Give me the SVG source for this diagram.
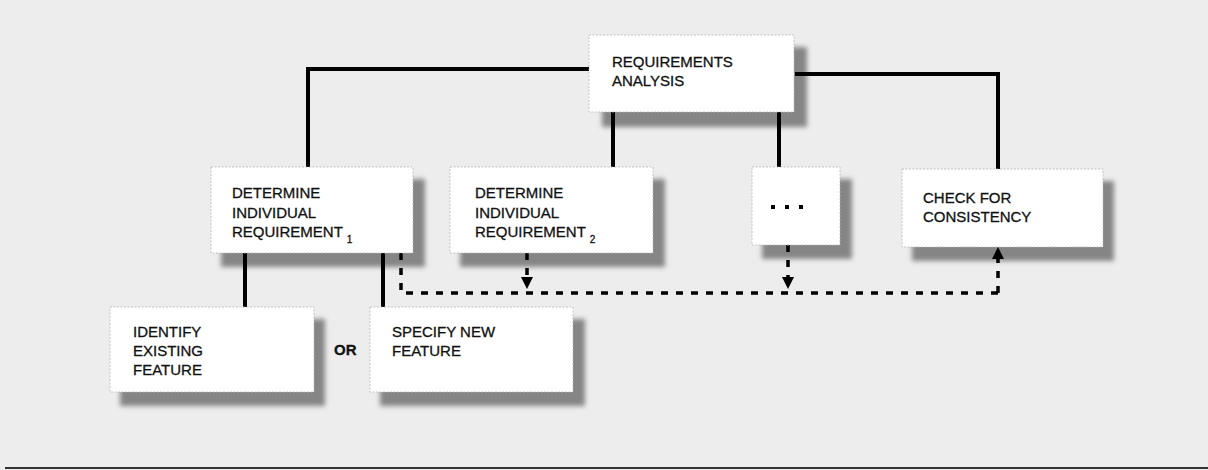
<svg xmlns="http://www.w3.org/2000/svg" width="1208" height="470" viewBox="0 0 1208 470">
<style>
.box{fill:#ffffff;stroke:#b8b8b8;stroke-width:0.8;stroke-dasharray:2 1.5}
.sh{fill:#858585;filter:url(#blur)}
.t{font-family:"Liberation Sans",Arial,sans-serif;font-size:15px;fill:#111;stroke:#111;stroke-width:0.3}
.sub{font-family:"Liberation Sans",Arial,sans-serif;font-size:10px;fill:#111}
.solid{fill:none;stroke:#000;stroke-width:4}
.dash{fill:none;stroke:#000;stroke-width:3.5;stroke-dasharray:7 8}
</style>
<defs>
<filter id="blur" x="-20%" y="-20%" width="140%" height="140%"><feGaussianBlur stdDeviation="2.5"/></filter>
</defs>
<rect x="0" y="0" width="1208" height="470" fill="#ededed"/>

<g id="shadows">
<rect class="sh" x="602" y="47" width="205" height="80"/>
<rect class="sh" x="221" y="179" width="204" height="88"/>
<rect class="sh" x="460" y="179" width="205" height="88"/>
<rect class="sh" x="762" y="179" width="90" height="80"/>
<rect class="sh" x="912" y="181" width="202" height="80"/>
<rect class="sh" x="120" y="319" width="205" height="87"/>
<rect class="sh" x="380" y="319" width="205" height="87"/>
</g>

<g id="connectors">
<polyline class="solid" points="592,69 308,69 308,167"/>
<polyline class="solid" points="795,74 998,74 998,169"/>
<line class="solid" x1="613" y1="112" x2="613" y2="167"/>
<line class="solid" x1="779" y1="112" x2="779" y2="167"/>
<line class="solid" x1="245" y1="253" x2="245" y2="307"/>
<line class="solid" x1="383" y1="253" x2="383" y2="307"/>
<polyline class="dash" points="401,253 401,293 998,293"/>
<line class="dash" x1="998" y1="293" x2="998" y2="258"/>
<path d="M992,259 L998,247 L1004,259 Z" fill="#000"/>
<line class="dash" x1="527" y1="253" x2="527" y2="278"/>
<path d="M521,277 L527,289 L533,277 Z" fill="#000"/>
<line class="dash" x1="788" y1="245" x2="788" y2="278"/>
<path d="M782,277 L788,289 L794,277 Z" fill="#000"/>
</g>

<g id="requirements-analysis">
<rect class="box" x="589" y="35" width="205" height="77"/>
<text class="t" x="612" y="67">REQUIREMENTS</text>
<text class="t" x="612" y="86">ANALYSIS</text>
</g>

<g id="determine-1">
<rect class="box" x="211" y="167" width="202" height="86"/>
<text class="t" x="232" y="198">DETERMINE</text>
<text class="t" x="232" y="218">INDIVIDUAL</text>
<text class="t" x="232" y="237">REQUIREMENT <tspan class="sub" dy="6">1</tspan></text>
</g>

<g id="determine-2">
<rect class="box" x="450" y="167" width="203" height="86"/>
<text class="t" x="475" y="198">DETERMINE</text>
<text class="t" x="475" y="218">INDIVIDUAL</text>
<text class="t" x="475" y="237">REQUIREMENT <tspan class="sub" dy="6">2</tspan></text>
</g>

<g id="ellipsis">
<rect class="box" x="752" y="167" width="88" height="78"/>
<rect x="771" y="205" width="4" height="4" fill="#000"/>
<rect x="785" y="205" width="4" height="4" fill="#000"/>
<rect x="799" y="205" width="4" height="4" fill="#000"/>
</g>

<g id="check-consistency">
<rect class="box" x="902" y="169" width="201" height="78"/>
<text class="t" x="923" y="203">CHECK FOR</text>
<text class="t" x="923" y="222">CONSISTENCY</text>
</g>

<g id="identify-existing">
<rect class="box" x="110" y="307" width="204" height="85"/>
<text class="t" x="133" y="337">IDENTIFY</text>
<text class="t" x="133" y="356">EXISTING</text>
<text class="t" x="133" y="375">FEATURE</text>
</g>

<g id="or-label">
<text class="t" x="334" y="355" style="font-weight:bold">OR</text>
</g>

<g id="specify-new">
<rect class="box" x="370" y="307" width="203" height="85"/>
<text class="t" x="392" y="337">SPECIFY NEW</text>
<text class="t" x="392" y="356">FEATURE</text>
</g>

<line x1="5" y1="468" x2="1208" y2="468" stroke="#333" stroke-width="2"/>
</svg>
